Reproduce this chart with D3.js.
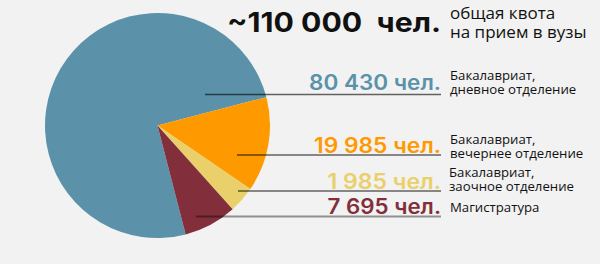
<!DOCTYPE html>
<html><head><meta charset="utf-8">
<script src="https://cdn.jsdelivr.net/npm/d3@7"></script>
<style>
html,body{margin:0;padding:0;background:#f2f2f2;}
svg{display:block;}
</style></head>
<body>
<svg id="c" width="600" height="264"></svg>
<script>
// Data
const categories = ["Бакалавриат, дневное отделение", "Бакалавриат, вечернее отделение", "Бакалавриат, заочное отделение", "Магистратура"];
const labelLines = [["Бакалавриат,", "дневное отделение"], ["Бакалавриат,", "вечернее отделение"], ["Бакалавриат,", "заочное отделение"], ["Магистратура"]];
const values = [80430, 19985, 1985, 7695];            // numbers printed in labels
const pieShares = [74.9, 13.6, 3.8, 7.6];             // slice shares (%) as drawn in the picture
const valueTexts = ["80 430 чел.", "19 985 чел.", "1 985 чел.", "7 695 чел."];
const totalText = "~110 000  чел.";
const totalNote = ["общая квота", "на прием в вузы"];
const colors = ["#5b92aa", "#ff9900", "#e9d06b", "#832f3b"];

const svg = d3.select("#c");
const W = 600, H = 264;
svg.append("rect").attr("width", W).attr("height", H).attr("fill", "#f2f2f2");

const cx = 157.5, cy = 125.5, R = 112.5;
const deg = Math.PI / 180;
const start = 165.5 * deg;
const pie = d3.pie().sort(null).value(d => d.share).startAngle(start).endAngle(start + 2 * Math.PI);
const arc = d3.arc().innerRadius(0).outerRadius(R);
const data = categories.map((c, i) => ({ c, share: pieShares[i], value: values[i], i }));

const g = svg.append("g").attr("transform", `translate(${cx},${cy})`);
g.selectAll("path").data(pie(data)).join("path")
  .attr("d", arc).attr("fill", (d, i) => colors[i]);

// Leader lines
const lineEnd = 441;
const lineY = [94.5, 155, 191, 216.5];
const lineX0 = [205, 237, 238, 196];
const lineW = [1.3, 1.3, 1.3, 2];
const lineOp = [0.6, 0.6, 0.6, 0.4];
svg.selectAll("line.lead").data(data).join("line").attr("class", "lead")
  .attr("x1", (d, i) => lineX0[i]).attr("x2", lineEnd)
  .attr("y1", (d, i) => lineY[i]).attr("y2", (d, i) => lineY[i])
  .attr("stroke", "#000").attr("stroke-opacity", (d, i) => lineOp[i])
  .attr("stroke-width", (d, i) => lineW[i]);

// Total
const numFont = "Inter, 'Open Sans', sans-serif";
svg.append("text").attr("x", 227).attr("y", 32)
  .attr("font-family", numFont).attr("font-weight", 700).attr("font-size", 27)
  .attr("fill", "#111").attr("textLength", 214).attr("lengthAdjust", "spacingAndGlyphs")
  .style("white-space", "pre").attr("xml:space", "preserve").text(totalText);
const tn = svg.append("text").attr("font-family", "'Open Sans', sans-serif").attr("font-size", 17).attr("fill", "#111");
totalNote.forEach((t, i) => tn.append("tspan").attr("x", 450).attr("y", 19 + i * 18.5).text(t));

// Value labels
const numX = [309, 314, 327.5, 327.5];
const numY = [89.5, 152.5, 188.5, 214];
svg.selectAll("text.num").data(data).join("text").attr("class", "num")
  .attr("x", (d, i) => numX[i]).attr("y", (d, i) => numY[i])
  .attr("font-family", numFont).attr("font-weight", 600).attr("font-size", 21)
  .attr("fill", (d, i) => colors[i])
  .attr("textLength", (d, i) => lineEnd - numX[i]).attr("lengthAdjust", "spacingAndGlyphs")
  .text((d, i) => valueTexts[i]);

// Category labels
const catX = [450, 450, 449, 450];
const catY = [79.5, 143.5, 177, 212];
svg.selectAll("text.cat").data(data).join("text").attr("class", "cat")
  .attr("font-family", "'Open Sans', sans-serif").attr("font-size", 13.2).attr("fill", "#111")
  .each(function (d, i) {
    const t = d3.select(this);
    labelLines[i].forEach((s, k) => t.append("tspan").attr("x", catX[i]).attr("y", catY[i] + k * 14.2).text(s));
  });
</script>
</body></html>
